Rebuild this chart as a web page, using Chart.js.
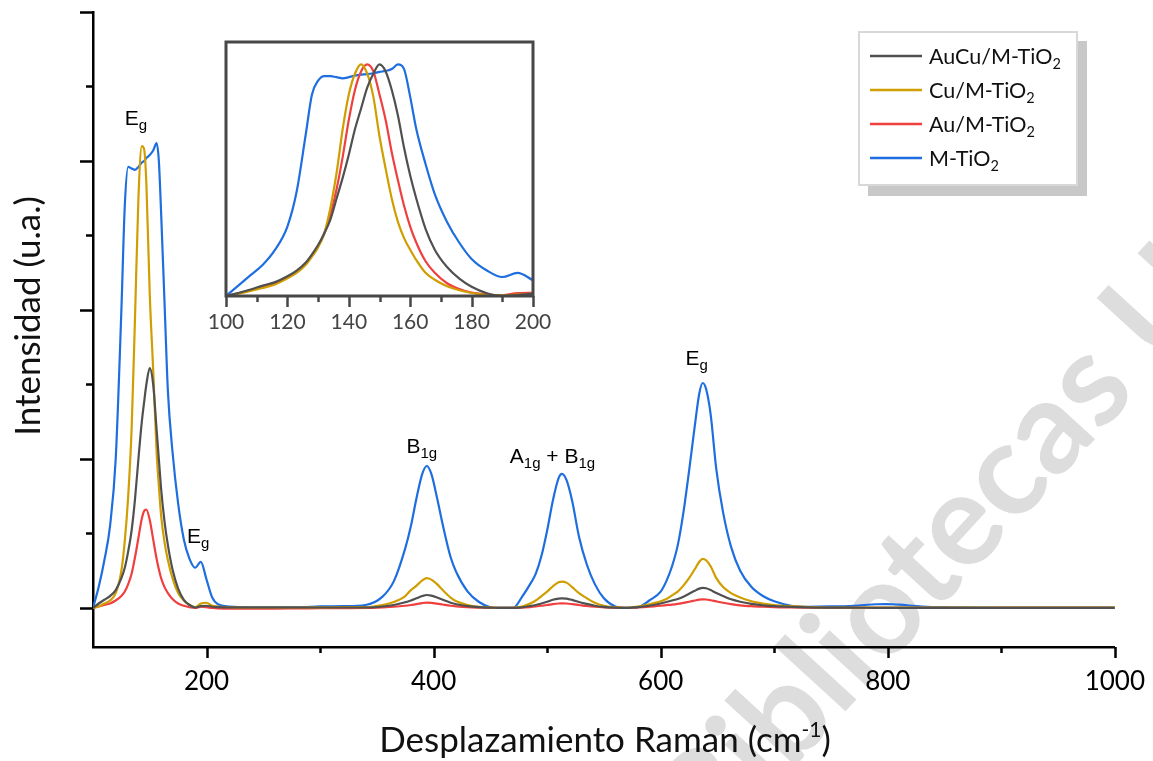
<!DOCTYPE html>
<html lang="es">
<head>
<meta charset="UTF-8">
<title>Espectros Raman</title>
<style>
  body { margin: 0; background: #fff; }
  #wrap { position: relative; width: 1153px; height: 761px; }
  #mainChart { position: absolute; left: 0; top: 0; }
  #insetChart { position: absolute; left: 196px; top: 30px; }
</style>
</head>
<body>
<div id="wrap">
  <canvas id="mainChart" width="1153" height="761"></canvas>
  <canvas id="insetChart" width="360" height="315"></canvas>
</div>

<script src="https://cdn.jsdelivr.net/npm/chart.js"></script>
<script>
// ---- main spectrum (cm-1) ----
const ramanShift = [
  100, 105, 110, 115, 120, 125, 128, 131, 134, 137, 140, 143, 145, 147, 150, 153, 156, 158, 160, 163, 166, 170, 175, 180, 185, 190, 195, 200, 205, 210,
  220, 240, 260, 280, 300, 320, 340,
  355, 365, 375, 380, 385, 390, 394, 398, 403, 408, 415, 420, 430, 440, 450,
  460, 470, 478, 485, 490, 495, 500, 505, 510, 513, 517, 522, 528, 535, 542, 550, 560, 570,
  580, 590, 600, 605, 610, 615, 620, 625, 630, 634, 637, 640, 644, 649, 655, 662, 670, 680, 690, 700, 715, 730,
  750, 770, 790, 800, 810, 830, 850, 900, 950, 1000
];

const auCu = [
  0, 0.03, 0.055, 0.08, 0.12, 0.2, 0.27, 0.38, 0.52, 0.73, 1.0, 1.25, 1.38, 1.5, 1.61, 1.5, 1.2, 1.0, 0.8, 0.58, 0.42, 0.26, 0.13, 0.055, 0.02, 0.003, 0.012, 0.015, 0.008, 0.005,
  0.004, 0.003, 0.003, 0.003, 0.003, 0.003, 0.003,
  0.01, 0.02, 0.038, 0.05, 0.065, 0.08, 0.087, 0.083, 0.07, 0.055, 0.035, 0.025, 0.012, 0.005, 0.002,
  0.0, 0.0, 0.005, 0.013, 0.02, 0.03, 0.042, 0.055, 0.063, 0.065, 0.063, 0.054, 0.04, 0.027, 0.015, 0.007, 0.002, 0.0,
  0.005, 0.015, 0.03, 0.04, 0.05, 0.06, 0.075, 0.095, 0.115, 0.13, 0.135, 0.132, 0.12, 0.1, 0.08, 0.058, 0.042, 0.028, 0.018, 0.012, 0.007, 0.004,
  0.002, 0.002, 0.001, 0.001, 0.001, 0.001, 0.001, 0.001, 0.001, 0.001
];

const cu = [
  0, 0.01, 0.03, 0.05, 0.1, 0.25, 0.45, 0.75, 1.2, 1.95, 2.75, 3.1, 3.08, 2.85, 2.1, 1.6, 1.05, 0.82, 0.62, 0.44, 0.32, 0.2, 0.1, 0.05, 0.02, 0.005, 0.03, 0.035, 0.015, 0.01,
  0.005, 0.003, 0.003, 0.003, 0.004, 0.005, 0.006,
  0.02, 0.04, 0.08, 0.12, 0.15, 0.185, 0.2, 0.19, 0.16, 0.12, 0.07, 0.045, 0.02, 0.008, 0.003,
  0.0, 0.002, 0.01, 0.03, 0.05, 0.08, 0.11, 0.145, 0.172, 0.177, 0.17, 0.14, 0.1, 0.065, 0.035, 0.015, 0.005, 0.0,
  0.01, 0.025, 0.045, 0.06, 0.085, 0.11, 0.15, 0.2, 0.26, 0.31, 0.33, 0.32, 0.28, 0.2, 0.14, 0.1, 0.07, 0.045, 0.03, 0.02, 0.012, 0.006,
  0.003, 0.002, 0.002, 0.002, 0.002, 0.002, 0.002, 0.002, 0.002, 0.002
];

const au = [
  0, 0.01, 0.02, 0.03, 0.05, 0.08, 0.11, 0.16, 0.23, 0.34, 0.47, 0.6, 0.65, 0.66, 0.59, 0.46, 0.33, 0.26, 0.2, 0.14, 0.1, 0.06, 0.03, 0.015, 0.005, 0.0, 0.008, 0.005, 0.0, -0.003,
  -0.004, -0.004, -0.004, -0.003, -0.002, -0.001, 0.0,
  0.004, 0.008, 0.015, 0.02, 0.026, 0.033, 0.036, 0.034, 0.029, 0.023, 0.015, 0.011, 0.005, 0.002, 0.0,
  0.0, 0.0, 0.002, 0.006, 0.01, 0.015, 0.02, 0.026, 0.03, 0.031, 0.03, 0.026, 0.02, 0.013, 0.008, 0.004, 0.001, 0.0,
  0.003, 0.008, 0.015, 0.019, 0.023, 0.028, 0.034, 0.042, 0.05, 0.056, 0.058, 0.057, 0.052, 0.044, 0.035, 0.026, 0.018, 0.012, 0.008, 0.005, 0.003, 0.002,
  0.001, 0, 0, 0, 0, 0, 0, 0, 0, 0
];

const mTiO2 = [
  0, 0.14, 0.32, 0.55, 1.0, 2.0, 2.7, 2.96, 2.95, 2.94, 2.96, 2.99, 3.0, 3.02, 3.04, 3.07, 3.12, 3.0, 2.65, 2.05, 1.45, 1.05, 0.7, 0.46, 0.33, 0.27, 0.31, 0.19, 0.07, 0.025,
  0.01, 0.005, 0.005, 0.005, 0.01, 0.012, 0.02,
  0.076, 0.18, 0.4, 0.55, 0.74, 0.9, 0.953, 0.9, 0.74, 0.56, 0.34, 0.24, 0.11, 0.04, 0.005,
  0.0, 0.0, 0.076, 0.16, 0.23, 0.35, 0.52, 0.72, 0.87, 0.9, 0.86, 0.72, 0.48, 0.29, 0.16, 0.065, 0.01, 0.0,
  0.005, 0.05, 0.11, 0.18, 0.28, 0.42, 0.64, 0.92, 1.22, 1.44, 1.51, 1.47, 1.3, 0.93, 0.64, 0.41, 0.25, 0.14, 0.08, 0.045, 0.015, 0.008,
  0.01, 0.015, 0.025, 0.026, 0.022, 0.01, 0.005, 0.003, 0.003, 0.002
];

// ---- inset, normalised 100-200 cm-1 ----
const insetShift = [100, 104, 108, 112, 116, 120, 123, 126, 128, 130, 132, 134, 136, 138, 140, 142, 144, 146, 148, 150,
  152, 154, 156, 158, 160, 162, 165, 168, 172, 176, 180, 185, 190, 195, 200];
const insetAuCu = [0, 0.013, 0.028, 0.045, 0.06, 0.085, 0.11, 0.145, 0.18, 0.22, 0.27, 0.33, 0.42, 0.51, 0.61, 0.72, 0.81, 0.9, 0.96, 1.0,
  0.97, 0.89, 0.78, 0.64, 0.52, 0.42, 0.29, 0.2, 0.125, 0.075, 0.04, 0.012, 0.0, 0.004, 0.01];
const insetCu = [0, 0.01, 0.022, 0.035, 0.05, 0.076, 0.1, 0.135, 0.17, 0.21, 0.27, 0.38, 0.53, 0.72, 0.87, 0.96, 1.0, 0.96, 0.86, 0.69,
  0.55, 0.42, 0.32, 0.25, 0.2, 0.155, 0.1, 0.07, 0.042, 0.025, 0.013, 0.005, 0.003, 0.006, 0.01];
const insetAu = [0, 0.012, 0.025, 0.04, 0.055, 0.08, 0.105, 0.14, 0.175, 0.215, 0.27, 0.35, 0.46, 0.6, 0.76, 0.89, 0.97, 1.0, 0.97, 0.87,
  0.76, 0.62, 0.5, 0.39, 0.3, 0.23, 0.15, 0.1, 0.055, 0.03, 0.015, 0.007, 0.003, 0.013, 0.014];
const insetM = [0, 0.045, 0.09, 0.135, 0.2, 0.3, 0.45, 0.7, 0.87, 0.93, 0.95, 0.95, 0.945, 0.94, 0.945, 0.952, 0.956, 0.958, 0.962, 0.968,
  0.972, 0.98, 1.0, 0.98, 0.86, 0.72, 0.57, 0.44, 0.32, 0.23, 0.16, 0.11, 0.082, 0.1, 0.068];

const seriesNames = ['AuCu/M-TiO2', 'Cu/M-TiO2', 'Au/M-TiO2', 'M-TiO2'];
const seriesColors = ['#505050', '#d09e00', '#f03f3f', '#1e6ee0'];

const intensityTicks = [0, 0.5, 1, 1.5, 2, 2.5, 3, 3.5, 4];

// peak labels: [text, subscript?]
const peakLabels = [
  { x: 137.8, y: 3.24, parts: [['E', 0], ['g', 1]] },
  { x: 192.7, y: 0.436, parts: [['E', 0], ['g', 1]] },
  { x: 389.6, y: 1.04, parts: [['B', 0], ['1g', 1]] },
  { x: 504.7, y: 0.973, parts: [['A', 0], ['1g', 1], [' + B', 0], ['1g', 1]] },
  { x: 631.7, y: 1.634, parts: [['E', 0], ['g', 1]] }
];

function toPoints(xs, ys) {
  return xs.map((x, i) => ({ x: x, y: ys[i] }));
}

// draws text made of normal and subscript/superscript parts
function drawParts(ctx, parts, x, y, font, smallFont, shift, align) {
  let total = 0;
  const widths = parts.map(p => {
    ctx.font = p[1] ? smallFont : font;
    const w = ctx.measureText(p[0]).width;
    total += w;
    return w;
  });
  let cx = align === 'left' ? x : x - total / 2;
  parts.forEach((p, i) => {
    ctx.font = p[1] ? smallFont : font;
    ctx.fillText(p[0], cx, p[1] ? y + shift : y);
    cx += widths[i];
  });
}

const watermark = {
  id: 'watermark',
  beforeDraw(chart) {
    const ctx = chart.ctx;
    ctx.save();
    ctx.font = 'bold 130px Lato';
    ctx.fillStyle = '#dddddd';
    const ang = -47.5 * Math.PI / 180;
    const ux = Math.cos(ang), uy = Math.sin(ang);
    const vx = Math.sin(ang), vy = -Math.cos(ang);
    const off = ctx.measureText('Bibliot').width + ctx.measureText('e').width / 2;
    const half = 130 * 0.26;
    const sx = 965 - off * ux - half * vx;
    const sy = 531 - off * uy - half * vy;
    ctx.translate(sx, sy);
    ctx.rotate(ang);
    ctx.textBaseline = 'alphabetic';
    ctx.fillText('Bibliotecas U', 0, 0);
    ctx.restore();
  }
};

const mainDecor = {
  id: 'mainDecor',
  afterDraw(chart) {
    const { ctx, chartArea: a, scales: { x, y } } = chart;
    ctx.save();
    // tick marks
    ctx.strokeStyle = '#000';
    ctx.lineWidth = 2.5;
    ctx.beginPath();
    x.ticks.forEach(t => {
      if (t.value <= 100) return;
      const px = Math.round(x.getPixelForValue(t.value)) + 0.5;
      const len = t.value % 200 === 0 ? 11 : 6;
      ctx.moveTo(px, a.bottom);
      ctx.lineTo(px, a.bottom + len);
    });
    intensityTicks.forEach(v => {
      const py = Math.round(y.getPixelForValue(v)) + 0.5;
      const len = Number.isInteger(v) ? 13 : 7;
      ctx.moveTo(a.left - len, py);
      ctx.lineTo(a.left, py);
    });
    ctx.stroke();

    // peak labels
    ctx.fillStyle = '#000';
    ctx.textBaseline = 'alphabetic';
    peakLabels.forEach(l => {
      drawParts(ctx, l.parts, x.getPixelForValue(l.x), y.getPixelForValue(l.y),
        '21px "Liberation Sans"', '15px "Liberation Sans"', 5, 'center');
    });

    // axis titles
    ctx.fillStyle = '#111';
    drawParts(ctx, [['Desplazamiento Raman (cm', 0], ['-1', 1], [')', 0]], 605, 752,
      '35px Lato', '21px Lato', -15, 'center');
    ctx.save();
    ctx.translate(40, 316);
    ctx.rotate(-Math.PI / 2);
    ctx.textAlign = 'center';
    ctx.font = '35px Lato';
    ctx.fillText('Intensidad (u.a.)', 0, 0);
    ctx.restore();

    // legend box
    ctx.fillStyle = '#c8c8c8';
    ctx.fillRect(868, 41, 219, 155);
    ctx.fillStyle = '#fff';
    ctx.fillRect(858, 31, 220, 155);
    ctx.strokeStyle = '#d8d8d8';
    ctx.lineWidth = 2;
    ctx.strokeRect(859, 32, 218, 153);
    const rows = [56, 90, 124, 158];
    chart.data.datasets.forEach((ds, i) => {
      ctx.strokeStyle = ds.borderColor;
      ctx.lineWidth = 2.5;
      ctx.beginPath();
      ctx.moveTo(870, rows[i]);
      ctx.lineTo(922, rows[i]);
      ctx.stroke();
      ctx.fillStyle = '#111';
      const name = ds.label;
      drawParts(ctx, [[name.slice(0, -1), 0], [name.slice(-1), 1]], 929, rows[i] + 7.5,
        '21.5px Lato', '14.5px Lato', 5.5, 'left');
    });
    ctx.restore();
  }
};

const insetDecor = {
  id: 'insetDecor',
  beforeDraw(chart) {
    const { ctx, chartArea: a } = chart;
    ctx.save();
    ctx.fillStyle = '#fff';
    ctx.fillRect(a.left, a.top, a.width, a.height);
    ctx.restore();
  },
  afterDraw(chart) {
    const { ctx, chartArea: a, scales: { x } } = chart;
    ctx.save();
    ctx.strokeStyle = '#474747';
    ctx.lineWidth = 3;
    ctx.strokeRect(a.left, a.top, a.width, a.height);
    ctx.lineWidth = 2.5;
    ctx.beginPath();
    x.ticks.forEach(t => {
      const px = Math.round(x.getPixelForValue(t.value)) + 0.5;
      const len = t.value % 20 === 0 ? 11 : 6;
      ctx.moveTo(px, a.bottom);
      ctx.lineTo(px, a.bottom + len);
    });
    ctx.stroke();
    ctx.restore();
  }
};

const mainSeries = [auCu, cu, au, mTiO2];
new Chart(document.getElementById('mainChart'), {
  type: 'line',
  data: {
    datasets: mainSeries.map((ys, i) => ({
      label: seriesNames[i],
      data: toPoints(ramanShift, ys),
      borderColor: seriesColors[i],
      borderWidth: 2.2,
      pointRadius: 0,
      cubicInterpolationMode: 'monotone',
      fill: false
    }))
  },
  options: {
    responsive: false,
    animation: false,
    layout: { padding: { top: 12, right: 36, left: 0, bottom: 0 } },
    plugins: { legend: { display: false }, tooltip: { enabled: false } },
    scales: {
      x: {
        type: 'linear',
        min: 100,
        max: 1000,
        afterFit: s => { s.height = 114; },
        grid: { display: false, drawTicks: true, tickLength: 11 },
        border: { display: true, color: '#000', width: 2.5 },
        ticks: {
          stepSize: 100,
          autoSkip: false,
          maxRotation: 0,
          padding: 8,
          color: '#000',
          font: { family: 'Lato', size: 26 },
          callback: v => (v % 200 === 0 ? v : '')
        }
      },
      y: {
        min: -0.262,
        max: 4,
        afterFit: s => { s.width = 93; },
        grid: { display: false, drawTicks: false },
        border: { display: true, color: '#000', width: 2.5 },
        ticks: { display: false, stepSize: 0.5 }
      }
    }
  },
  plugins: [watermark, mainDecor]
});

const insetSeries = [insetAuCu, insetCu, insetAu, insetM];
new Chart(document.getElementById('insetChart'), {
  type: 'line',
  data: {
    datasets: insetSeries.map((ys, i) => ({
      label: seriesNames[i],
      data: toPoints(insetShift, ys),
      borderColor: seriesColors[i],
      borderWidth: 2.2,
      pointRadius: 0,
      cubicInterpolationMode: 'monotone',
      fill: false
    }))
  },
  options: {
    responsive: false,
    animation: false,
    layout: { padding: { top: 12, right: 23, left: 30, bottom: 0 } },
    plugins: { legend: { display: false }, tooltip: { enabled: false } },
    scales: {
      x: {
        type: 'linear',
        min: 100,
        max: 200,
        afterFit: s => { s.height = 49; },
        grid: { display: false, drawTicks: true, tickLength: 11 },
        border: { display: false },
        ticks: {
          stepSize: 10,
          autoSkip: false,
          maxRotation: 0,
          padding: 3,
          color: '#444',
          font: { family: 'Lato', size: 21 },
          callback: v => (v % 20 === 0 ? v : '')
        }
      },
      y: { display: false, min: 0, max: 1.097 }
    }
  },
  plugins: [insetDecor]
});
</script>
</body>
</html>
